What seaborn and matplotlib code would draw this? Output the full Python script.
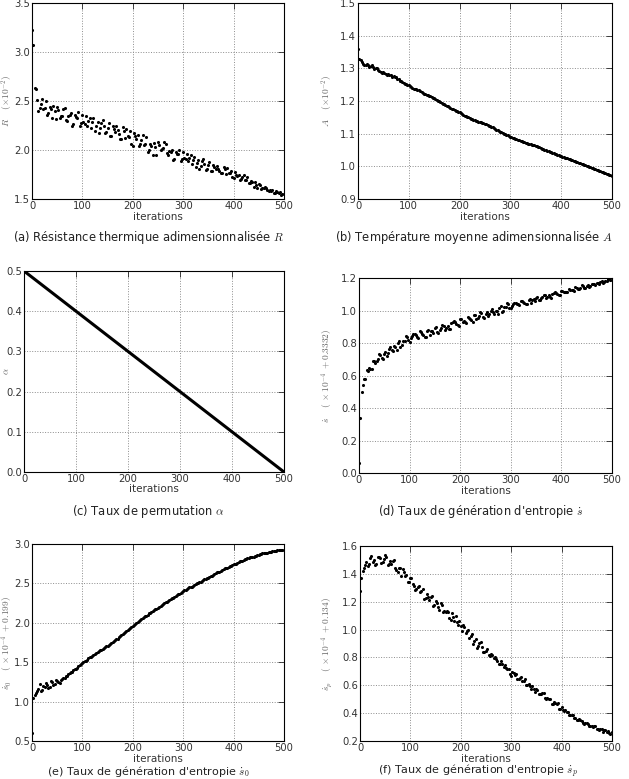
import seaborn as sns
import matplotlib.pyplot as plt

iters = list(range(0, 501, 5))
iters_mid = list(range(2, 500, 5))

# (a) R
r_vals = [3.22, 2.63, 2.51, 2.43, 2.52, 2.43, 2.36, 2.44, 2.33, 2.40,
          2.44, 2.33, 2.35, 2.43, 2.30, 2.36, 2.25, 2.36, 2.33, 2.25,
          2.36, 2.27, 2.25, 2.33, 2.29, 2.19, 2.29, 2.22, 2.31, 2.17,
          2.22, 2.14, 2.24, 2.18, 2.20, 2.11, 2.23, 2.12, 2.14, 2.19,
          2.04, 2.14, 2.15, 2.06, 2.15, 2.06, 1.98, 2.06, 1.95, 2.03,
          2.08, 2.00, 2.02, 2.06, 1.95, 1.98, 1.90, 1.98, 1.96, 1.89,
          1.98, 1.91, 1.89, 1.95, 1.90, 1.83, 1.90, 1.84, 1.91, 1.80,
          1.85, 1.79, 1.85, 1.81, 1.81, 1.77, 1.83, 1.76, 1.77, 1.79,
          1.71, 1.75, 1.75, 1.70, 1.74, 1.69, 1.66, 1.68, 1.62, 1.64,
          1.65, 1.605, 1.61, 1.61, 1.58, 1.58, 1.56, 1.58, 1.565, 1.545,
          1.555]
r_vals_mid = [3.07, 2.62, 2.40, 2.47, 2.42, 2.50, 2.38, 2.42, 2.45, 2.32,
              2.41, 2.35, 2.42, 2.31, 2.35, 2.38, 2.27, 2.34, 2.39, 2.28,
              2.29, 2.35, 2.30, 2.22, 2.33, 2.24, 2.17, 2.28, 2.24, 2.18,
              2.28, 2.14, 2.21, 2.24, 2.16, 2.11, 2.19, 2.21, 2.13, 2.06,
              2.17, 2.11, 2.04, 2.10, 2.05, 2.13, 2.00, 2.04, 2.07, 1.95,
              2.05, 2.01, 2.08, 1.97, 1.99, 2.00, 1.91, 1.96, 2.00, 1.91,
              1.92, 1.96, 1.92, 1.86, 1.93, 1.87, 1.81, 1.89, 1.86, 1.81,
              1.88, 1.79, 1.83, 1.84, 1.79, 1.77, 1.81, 1.82, 1.77, 1.72,
              1.78, 1.73, 1.69, 1.72, 1.69, 1.72, 1.665, 1.67, 1.67, 1.61,
              1.64, 1.61, 1.62, 1.59, 1.59, 1.59, 1.563, 1.573, 1.575, 1.549]

# (b) A
a_vals = [1.360, 1.325, 1.313, 1.311, 1.310, 1.306, 1.303, 1.300, 1.296, 1.290,
          1.288, 1.284, 1.283, 1.280, 1.277, 1.273, 1.266, 1.260, 1.255, 1.251,
          1.248, 1.242, 1.238, 1.236, 1.234, 1.228, 1.222, 1.219, 1.216, 1.212,
          1.208, 1.203, 1.199, 1.194, 1.190, 1.186, 1.181, 1.177, 1.172, 1.168,
          1.165, 1.160, 1.155, 1.151, 1.148, 1.144, 1.141, 1.138, 1.136, 1.133,
          1.131, 1.127, 1.123, 1.119, 1.114, 1.110, 1.106, 1.102, 1.098, 1.095,
          1.091, 1.088, 1.085, 1.082, 1.078, 1.075, 1.072, 1.069, 1.067, 1.065,
          1.062, 1.059, 1.056, 1.052, 1.049, 1.046, 1.043, 1.040, 1.037, 1.034,
          1.031, 1.028, 1.025, 1.022, 1.019, 1.016, 1.013, 1.010, 1.007, 1.004,
          1.001, 0.998, 0.995, 0.992, 0.989, 0.986, 0.983, 0.980, 0.977, 0.974,
          0.970]
a_vals_mid = [1.330, 1.318, 1.309, 1.314, 1.305, 1.309, 1.298, 1.302, 1.291, 1.286,
              1.285, 1.281, 1.279, 1.275, 1.274, 1.268, 1.262, 1.257, 1.253, 1.249,
              1.245, 1.240, 1.236, 1.234, 1.231, 1.225, 1.220, 1.218, 1.214, 1.210,
              1.206, 1.201, 1.197, 1.192, 1.188, 1.184, 1.179, 1.175, 1.170, 1.166,
              1.162, 1.158, 1.153, 1.150, 1.146, 1.142, 1.140, 1.137, 1.135, 1.132,
              1.129, 1.125, 1.121, 1.117, 1.112, 1.108, 1.104, 1.100, 1.097, 1.093,
              1.090, 1.087, 1.084, 1.080, 1.077, 1.074, 1.071, 1.068, 1.066, 1.064,
              1.061, 1.058, 1.054, 1.051, 1.048, 1.045, 1.042, 1.039, 1.036, 1.033,
              1.030, 1.027, 1.024, 1.021, 1.018, 1.015, 1.012, 1.009, 1.006, 1.003,
              1.000, 0.997, 0.994, 0.991, 0.988, 0.985, 0.982, 0.979, 0.976, 0.972]

# (c) alpha
alpha_iters = [0, 500]
alpha_vals = [0.5, 0.0]

# (d) s dot
s_vals = [0.06, 0.50, 0.58, 0.635, 0.645, 0.64, 0.69, 0.69, 0.735, 0.705,
          0.73, 0.72, 0.765, 0.76, 0.78, 0.76, 0.81, 0.79, 0.815, 0.84,
          0.805, 0.845, 0.855, 0.84, 0.875, 0.855, 0.84, 0.875, 0.85, 0.875,
          0.89, 0.87, 0.88, 0.91, 0.88, 0.905, 0.885, 0.93, 0.93, 0.91,
          0.95, 0.93, 0.93, 0.96, 0.95, 0.93, 0.97, 0.955, 0.99, 0.96,
          0.98, 0.965, 1.00, 0.99, 1.00, 0.98, 1.03, 1.00, 1.02, 1.04,
          1.015, 1.04, 1.047, 1.038, 1.061, 1.05, 1.042, 1.064, 1.049, 1.068,
          1.08, 1.067, 1.077, 1.096, 1.077, 1.093, 1.079, 1.106, 1.107, 1.096,
          1.122, 1.111, 1.113, 1.132, 1.128, 1.119, 1.14, 1.134, 1.154, 1.139,
          1.151, 1.144, 1.165, 1.161, 1.168, 1.164, 1.181, 1.175, 1.182, 1.192,
          1.19]
s_vals_mid = [0.34, 0.54, 0.58, 0.63, 0.643, 0.69, 0.674, 0.704, 0.729, 0.70,
              0.744, 0.737, 0.774, 0.749, 0.774, 0.797, 0.774, 0.811, 0.844, 0.817,
              0.83, 0.855, 0.847, 0.832, 0.87, 0.852, 0.837, 0.88, 0.874, 0.861,
              0.90, 0.862, 0.895, 0.907, 0.89, 0.886, 0.922, 0.937, 0.92, 0.905,
              0.947, 0.936, 0.922, 0.951, 0.943, 0.975, 0.946, 0.967, 0.985, 0.954,
              0.992, 0.978, 1.01, 0.979, 0.998, 1.015, 0.988, 1.019, 1.045, 1.016,
              1.03, 1.047, 1.043, 1.035, 1.059, 1.049, 1.041, 1.068, 1.066, 1.061,
              1.086, 1.064, 1.085, 1.093, 1.084, 1.082, 1.102, 1.112, 1.103, 1.095,
              1.121, 1.116, 1.112, 1.128, 1.126, 1.143, 1.13, 1.141, 1.151, 1.137,
              1.157, 1.152, 1.166, 1.159, 1.168, 1.176, 1.17, 1.182, 1.192, 1.185]

# (e) s0 dot
s0_vals = [0.60, 1.08, 1.13, 1.22, 1.15, 1.18, 1.21, 1.19, 1.25, 1.22,
           1.26, 1.24, 1.29, 1.30, 1.33, 1.36, 1.38, 1.41, 1.43, 1.47,
           1.49, 1.51, 1.53, 1.56, 1.58, 1.60, 1.63, 1.65, 1.67, 1.69,
           1.71, 1.73, 1.76, 1.78, 1.80, 1.83, 1.86, 1.88, 1.91, 1.93,
           1.96, 1.98, 2.01, 2.03, 2.06, 2.08, 2.10, 2.13, 2.15, 2.17,
           2.19, 2.21, 2.24, 2.26, 2.28, 2.30, 2.32, 2.34, 2.36, 2.38,
           2.40, 2.42, 2.44, 2.45, 2.47, 2.49, 2.51, 2.52, 2.54, 2.56,
           2.57, 2.59, 2.61, 2.63, 2.64, 2.66, 2.68, 2.69, 2.71, 2.72,
           2.74, 2.75, 2.77, 2.78, 2.80, 2.81, 2.82, 2.83, 2.84, 2.85,
           2.86, 2.87, 2.88, 2.89, 2.895, 2.90, 2.91, 2.915, 2.92, 2.925,
           2.93]
s0_vals_mid = [1.05, 1.11, 1.16, 1.13, 1.20, 1.23, 1.17, 1.26, 1.21, 1.27,
               1.25, 1.28, 1.30, 1.32, 1.35, 1.37, 1.40, 1.42, 1.45, 1.48,
               1.50, 1.52, 1.55, 1.57, 1.59, 1.62, 1.64, 1.66, 1.68, 1.71,
               1.72, 1.75, 1.77, 1.79, 1.82, 1.84, 1.87, 1.89, 1.92, 1.95,
               1.97, 2.00, 2.02, 2.05, 2.07, 2.09, 2.12, 2.14, 2.16, 2.18,
               2.20, 2.23, 2.25, 2.27, 2.29, 2.31, 2.33, 2.35, 2.37, 2.39,
               2.41, 2.43, 2.45, 2.46, 2.48, 2.50, 2.52, 2.53, 2.55, 2.57,
               2.58, 2.60, 2.62, 2.64, 2.65, 2.67, 2.69, 2.70, 2.72, 2.73,
               2.75, 2.76, 2.78, 2.79, 2.81, 2.82, 2.83, 2.84, 2.85, 2.86,
               2.87, 2.88, 2.885, 2.89, 2.90, 2.905, 2.91, 2.92, 2.925, 2.93]

# (f) sp dot
sp_vals = [1.28, 1.42, 1.467, 1.454, 1.515, 1.488, 1.465, 1.523, 1.514, 1.488,
           1.532, 1.462, 1.49, 1.491, 1.445, 1.416, 1.439, 1.433, 1.382, 1.339,
           1.371, 1.33, 1.286, 1.306, 1.268, 1.292, 1.228, 1.234, 1.236, 1.169,
           1.204, 1.165, 1.188, 1.124, 1.125, 1.128, 1.067, 1.087, 1.095, 1.031,
           1.027, 1.035, 0.976, 0.998, 0.957, 0.899, 0.931, 0.885, 0.913, 0.841,
           0.847, 0.814, 0.827, 0.798, 0.791, 0.756, 0.772, 0.73, 0.722, 0.72,
           0.67, 0.686, 0.678, 0.648, 0.662, 0.63, 0.60, 0.61, 0.57, 0.576,
           0.574, 0.538, 0.534, 0.542, 0.50, 0.504, 0.466, 0.482, 0.464, 0.43,
           0.446, 0.416, 0.408, 0.388, 0.389, 0.368, 0.35, 0.355, 0.341, 0.325,
           0.329, 0.305, 0.309, 0.305, 0.289, 0.278, 0.284, 0.282, 0.267, 0.254,
           0.262]
sp_vals_mid = [1.37, 1.44, 1.487, 1.47, 1.527, 1.497, 1.474, 1.521, 1.477, 1.507,
               1.52, 1.469, 1.473, 1.496, 1.428, 1.441, 1.382, 1.415, 1.39, 1.338,
               1.37, 1.315, 1.29, 1.315, 1.276, 1.223, 1.257, 1.214, 1.244, 1.175,
               1.188, 1.141, 1.175, 1.134, 1.13, 1.08, 1.121, 1.058, 1.054, 1.064,
               0.987, 1.016, 0.989, 0.941, 0.967, 0.916, 0.871, 0.906, 0.876, 0.838,
               0.857, 0.808, 0.815, 0.806, 0.773, 0.75, 0.756, 0.748, 0.714, 0.682,
               0.697, 0.673, 0.647, 0.655, 0.633, 0.642, 0.60, 0.598, 0.594, 0.55,
               0.563, 0.537, 0.547, 0.507, 0.507, 0.504, 0.464, 0.47, 0.472, 0.43,
               0.423, 0.42, 0.407, 0.386, 0.387, 0.366, 0.348, 0.35, 0.327, 0.327,
               0.324, 0.305, 0.302, 0.305, 0.283, 0.285, 0.268, 0.277, 0.269, 0.253]

sns.set_style('white')
plt.rcParams['font.family'] = ['DejaVu Sans']
plt.rcParams['mathtext.fontset'] = 'cm'

W, H = 629, 779
fig = plt.figure(figsize=(W / 100, H / 100), dpi=100)


def add_axes(left, top, right, bottom):
    # pixel box -> figure fraction
    return fig.add_axes([left / W, 1 - bottom / H, (right - left) / W, (bottom - top) / H])


def dots(ax, y1, y2):
    sns.scatterplot(x=iters, y=y1, ax=ax, s=5, marker='o', color='black', linewidth=0)
    sns.scatterplot(x=iters_mid, y=y2, ax=ax, s=5, marker='o', color='black', linewidth=0)


def style(ax, ylim, yticks, ylabel, lab_x):
    ax.set_xlim(0, 500)
    ax.set_ylim(*ylim)
    ax.set_xticks(range(0, 501, 100))
    ax.set_yticks(yticks)
    ax.grid(True, linestyle=':', color='#8c8c8c', linewidth=0.7)
    ax.set_axisbelow(True)
    ax.tick_params(direction='in', top=True, right=True, length=4, width=0.6,
                   labelsize=7.2, labelcolor='#333333', pad=1.6)
    for sp in ax.spines.values():
        sp.set_color('black')
        sp.set_linewidth(0.8)
    ax.set_xlabel('iterations', fontsize=7.5, color='#333333', labelpad=0.2)
    ax.set_ylabel(ylabel, fontsize=6.8, color='#666666')
    ax.yaxis.set_label_coords(lab_x, 0.5)


ax_a = add_axes(32, 3, 284, 199)
dots(ax_a, r_vals, r_vals_mid)
style(ax_a, (1.5, 3.5), [1.5, 2.0, 2.5, 3.0, 3.5], r'$R\quad\;(\times10^{-2})$', -0.069)

ax_b = add_axes(358, 3, 612, 199)
dots(ax_b, a_vals, a_vals_mid)
style(ax_b, (0.9, 1.5), [0.9, 1.0, 1.1, 1.2, 1.3, 1.4, 1.5], r'$A\quad\;(\times10^{-2})$', -0.09)

ax_c = add_axes(24, 271, 284, 472)
sns.lineplot(x=alpha_iters, y=alpha_vals, ax=ax_c, color='black', linewidth=2.2)
style(ax_c, (0.0, 0.5), [0.0, 0.1, 0.2, 0.3, 0.4, 0.5], r'$\alpha$', -0.05)

ax_d = add_axes(359, 278, 612, 473)
dots(ax_d, s_vals, s_vals_mid)
style(ax_d, (0.0, 1.2), [0.0, 0.2, 0.4, 0.6, 0.8, 1.0, 1.2],
      r'$\dot{s}\quad\;(\;\times10^{-4}\;+0.3332)$', -0.095)

ax_e = add_axes(32, 544, 284, 741)
dots(ax_e, s0_vals, s0_vals_mid)
style(ax_e, (0.5, 3.0), [0.5, 1.0, 1.5, 2.0, 2.5, 3.0],
      r'$\dot{s}_0\quad\;(\;\times10^{-4}\;+0.199)$', -0.069)

ax_f = add_axes(360, 546, 612, 741)
dots(ax_f, sp_vals, sp_vals_mid)
style(ax_f, (0.2, 1.6), [0.2, 0.4, 0.6, 0.8, 1.0, 1.2, 1.4, 1.6],
      r'$\dot{s}_p\quad\;(\;\times10^{-4}\;+0.134)$', -0.099)

captions = [
    (148, 237, r"(a) Résistance thermique adimensionnalisée $R$"),
    (474, 237, r"(b) Température moyenne adimensionnalisée $A$"),
    (148, 512, r"(c) Taux de permutation $\alpha$"),
    (481, 512, r"(d) Taux de génération d'entropie $\dot{s}$"),
    (148, 771.5, r"(e) Taux de génération d'entropie $\dot{s}_0$"),
    (478, 771.5, r"(f) Taux de génération d'entropie $\dot{s}_p$"),
]
for cx, cy, txt in captions:
    size = 8.3 if cy < 700 else 8.0
    fig.text(cx / W, 1 - cy / H, txt, ha='center', va='center', fontsize=size, color='#222222')

fig.savefig('out.png', dpi=100)
